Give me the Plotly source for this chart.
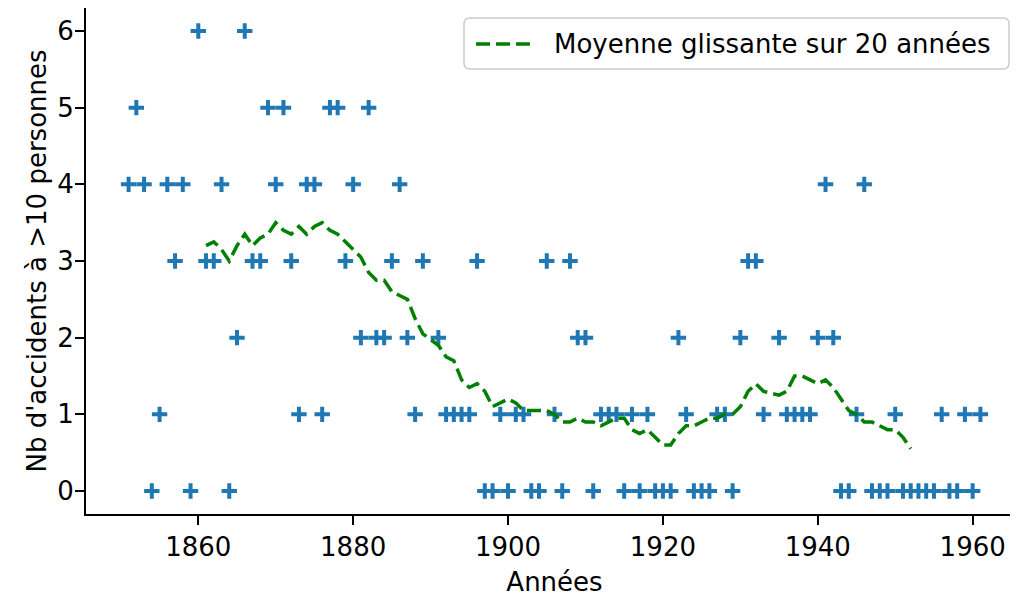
import plotly.graph_objects as go

# nombre d'accidents par année (1890 et 1934 absents)
annees = [
    1851, 1852, 1853, 1854, 1855, 1856, 1857, 1858, 1859, 1860,
    1861, 1862, 1863, 1864, 1865, 1866, 1867, 1868, 1869, 1870,
    1871, 1872, 1873, 1874, 1875, 1876, 1877, 1878, 1879, 1880,
    1881, 1882, 1883, 1884, 1885, 1886, 1887, 1888, 1889, 1891,
    1892, 1893, 1894, 1895, 1896, 1897, 1898, 1899, 1900, 1901,
    1902, 1903, 1904, 1905, 1906, 1907, 1908, 1909, 1910, 1911,
    1912, 1913, 1914, 1915, 1916, 1917, 1918, 1919, 1920, 1921,
    1922, 1923, 1924, 1925, 1926, 1927, 1928, 1929, 1930, 1931,
    1932, 1933, 1935, 1936, 1937, 1938, 1939, 1940, 1941, 1942,
    1943, 1944, 1945, 1946, 1947, 1948, 1949, 1950, 1951, 1952,
    1953, 1954, 1955, 1956, 1957, 1958, 1959, 1960, 1961,
]
accidents = [
    4, 5, 4, 0, 1, 4, 3, 4, 0, 6,
    3, 3, 4, 0, 2, 6, 3, 3, 5, 4,
    5, 3, 1, 4, 4, 1, 5, 5, 3, 4,
    2, 5, 2, 2, 3, 4, 2, 1, 3, 2,
    1, 1, 1, 1, 3, 0, 0, 1, 0, 1,
    1, 0, 0, 3, 1, 0, 3, 2, 2, 0,
    1, 1, 1, 0, 1, 0, 1, 0, 0, 0,
    2, 1, 0, 0, 0, 1, 1, 0, 2, 3,
    3, 1, 2, 1, 1, 1, 1, 2, 4, 2,
    0, 0, 1, 4, 0, 0, 0, 1, 0, 0,
    0, 0, 0, 1, 0, 0, 1, 0, 1,
]

# moyenne glissante
annees_moy = [
    1861, 1862, 1863, 1864, 1865, 1866, 1867, 1868, 1869, 1870,
    1871, 1872, 1873, 1874, 1875, 1876, 1877, 1878, 1879, 1880,
    1881, 1882, 1883, 1884, 1885, 1886, 1887, 1888, 1889, 1891,
    1892, 1893, 1894, 1895, 1896, 1897, 1898, 1899, 1900, 1901,
    1902, 1903, 1904, 1905, 1906, 1907, 1908, 1909, 1910, 1911,
    1912, 1913, 1914, 1915, 1916, 1917, 1918, 1919, 1920, 1921,
    1922, 1923, 1924, 1925, 1926, 1927, 1928, 1929, 1930, 1931,
    1932, 1933, 1935, 1936, 1937, 1938, 1939, 1940, 1941, 1942,
    1943, 1944, 1945, 1946, 1947, 1948, 1949, 1950, 1951, 1952,
]
moyenne = [
    3.20, 3.25, 3.15, 3.00, 3.20, 3.35, 3.20, 3.30, 3.35, 3.50,
    3.40, 3.35, 3.45, 3.35, 3.45, 3.50, 3.40, 3.35, 3.25, 3.15,
    3.05, 2.85, 2.75, 2.75, 2.60, 2.55, 2.50, 2.25, 2.05, 1.90,
    1.75, 1.70, 1.45, 1.35, 1.40, 1.30, 1.10, 1.15, 1.20, 1.15,
    1.05, 1.05, 1.05, 1.05, 1.00, 0.90, 0.90, 0.95, 0.90, 0.90,
    0.85, 0.90, 0.95, 0.95, 0.80, 0.75, 0.80, 0.70, 0.60, 0.60,
    0.75, 0.85, 0.85, 0.90, 0.95, 0.95, 1.00, 1.00, 1.10, 1.30,
    1.40, 1.30, 1.25, 1.30, 1.50, 1.50, 1.45, 1.40, 1.45, 1.35,
    1.20, 1.05, 1.00, 0.90, 0.90, 0.85, 0.80, 0.80, 0.70, 0.55,
]

legende = 'Moyenne glissante sur 20 années'
vert = '#008000'
tiret = '14px,6px'

fig = go.Figure()

fig.add_trace(go.Scatter(
    x=annees, y=accidents,
    mode='markers',
    marker=dict(symbol='cross-thin', size=11, color='#1f77b4',
                line=dict(width=4, color='#1f77b4')),
    showlegend=False
))

fig.add_trace(go.Scatter(
    x=annees_moy, y=moyenne,
    mode='lines',
    name=legende,
    line=dict(color=vert, width=3.5, dash=tiret),
    showlegend=False
))

# légende dessinée à la main (cadre arrondi façon matplotlib)
x0, x1, y0, y1 = 0.4034, 0.9851, 0.8794, 0.9802
rx, ry = 0.0064, 0.0119
cadre = (
    f"M{x0+rx},{y0} L{x1-rx},{y0} Q{x1},{y0} {x1},{y0+ry} "
    f"L{x1},{y1-ry} Q{x1},{y1} {x1-rx},{y1} "
    f"L{x0+rx},{y1} Q{x0},{y1} {x0},{y1-ry} "
    f"L{x0},{y0+ry} Q{x0},{y0} {x0+rx},{y0} Z"
)
fig.add_shape(type='path', path=cadre, xref='paper', yref='paper',
              fillcolor='rgba(255,255,255,0.8)',
              line=dict(color='#cccccc', width=1.5), layer='above')
fig.add_shape(type='line', xref='paper', yref='paper',
              x0=0.4162, x1=0.4739, y0=0.9289, y1=0.9289,
              line=dict(color=vert, width=3.5, dash=tiret), layer='above')
fig.add_annotation(text=legende, xref='paper', yref='paper',
                   x=0.4973, y=0.9289, xanchor='left', yanchor='middle',
                   showarrow=False, font=dict(size=26, color='black'))

axis_style = dict(
    showgrid=False, zeroline=False, automargin=False,
    showline=True, linecolor='black', linewidth=2,
    ticks='outside', ticklen=9, tickwidth=2, tickcolor='black',
    tickfont=dict(size=26, color='black'),
)

fig.update_layout(
    width=1018, height=599,
    autosize=False,
    margin=dict(l=78, r=3, t=0, b=93),
    paper_bgcolor='white',
    plot_bgcolor='white',
    font=dict(family='DejaVu Sans', size=26, color='black'),
    showlegend=False,
    xaxis=dict(
        range=[1845.5, 1966.5],
        tickvals=[1860, 1880, 1900, 1920, 1940, 1960],
        mirror=True,
        title=dict(text='Années', font=dict(size=26), standoff=12),
        **axis_style
    ),
    yaxis=dict(
        range=[-0.3, 6.3],
        tickvals=[0, 1, 2, 3, 4, 5, 6],
        ticklabelstandoff=-4,
        title=dict(text="Nb d'accidents à >10 personnes", font=dict(size=26), standoff=3),
        **axis_style
    ),
)

fig.write_html("out.html")
